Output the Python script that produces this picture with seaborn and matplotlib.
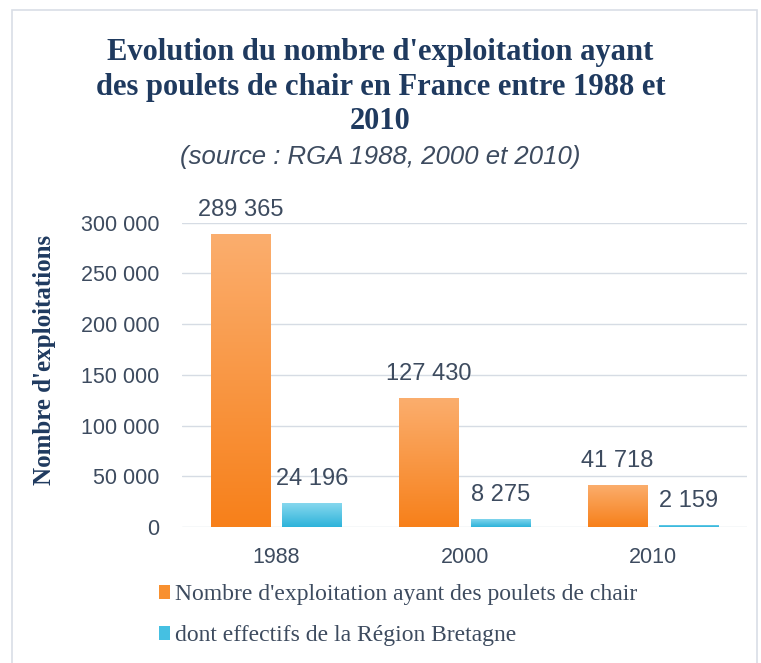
import matplotlib
matplotlib.use("Agg")
import matplotlib.pyplot as plt
import matplotlib.patches as mpatches
from matplotlib.colors import LinearSegmentedColormap
import numpy as np
import pandas as pd
import seaborn as sns

years = ["1988", "2000", "2010"]
series = ["Nombre d'exploitation ayant des poulets de chair",
          "dont effectifs de la Région Bretagne"]
france = [289365, 127430, 41718]
bretagne = [24196, 8275, 2159]
yticks = [0, 50000, 100000, 150000, 200000, 250000, 300000]

df = pd.DataFrame({
    "year": years * 2,
    "series": [series[0]] * 3 + [series[1]] * 3,
    "value": france + bretagne,
})

sns.set_theme(style="white")
plt.rcParams['font.family'] = ['DejaVu Sans']

def fmt(v):
    return f"{v:,}".replace(",", " ")

txt = "#3D4B5F"
navy = "#1F3A5F"
colors = {series[0]: "#F8902F", series[1]: "#45C0E2"}

fig = plt.figure(figsize=(7.61, 6.63), dpi=100)
fig.patch.set_facecolor("white")
ax = fig.add_axes([0.239, 0.205, 0.743, 0.459])

sns.barplot(data=df, x="year", y="value", hue="series", hue_order=series,
            palette=colors, width=0.76, gap=0.17, ax=ax, legend=True,
            edgecolor="none", linewidth=0, saturation=1)

ax.set_ylim(0, 300000)
ax.set_xlim(-0.5, 2.5)
ax.set_yticks(yticks)
ax.set_yticklabels([fmt(v) for v in yticks], fontfamily="Liberation Sans",
                   fontsize=15.5, color=txt)
ax.set_xticklabels(years, fontfamily="Liberation Sans", fontsize=15.5, color=txt)
ax.tick_params(axis="y", length=0, pad=16)
ax.tick_params(axis="x", length=0, pad=14)
ax.grid(axis="y", color="#D6DCE4", linewidth=1)
ax.set_axisbelow(True)
for s in ["top", "right", "left", "bottom"]:
    ax.spines[s].set_visible(False)
ax.set_xlabel("")
ax.set_ylabel("Nombre d'exploitations", fontfamily="Liberation Serif",
              fontweight="bold", fontsize=18, color=navy)
ax.yaxis.set_label_coords((56 - 182) / 565, (527 - 360) / 304)

# gradients on bars
grads = {
    series[0]: LinearSegmentedColormap.from_list("o", ["#F7801A", "#FBAE6E"]),
    series[1]: LinearSegmentedColormap.from_list("b", ["#2DB3DA", "#8AD9EF"]),
}
for cont, name in zip(ax.containers, series):
    for bar in cont:
        x0, y0 = bar.get_x(), bar.get_y()
        w, h = bar.get_width(), bar.get_height()
        grad = np.linspace(0, 1, 256).reshape(-1, 1)
        im = ax.imshow(grad, extent=[x0, x0 + w, y0, y0 + h], origin="lower",
                       aspect="auto", cmap=grads[name], zorder=bar.get_zorder())
        im.set_clip_path(bar)
    ax.bar_label(cont, labels=[fmt(int(v)) for v in cont.datavalues],
                 padding=9, fontfamily="Liberation Sans", fontsize=17,
                 color=txt, clip_on=False)
ax.set_xlim(-0.5, 2.5)
ax.set_ylim(0, 300000)

# legend
handles, labels = ax.get_legend_handles_labels()
ax.get_legend().remove()
leg = fig.legend(handles, labels, loc="upper left",
                 bbox_to_anchor=(0.196, 0.133), frameon=False,
                 prop={"family": "Liberation Serif", "size": 17},
                 handlelength=0.5, handleheight=0.5, handletextpad=0.2,
                 labelspacing=0.85, borderaxespad=0)
for t in leg.get_texts():
    t.set_color(txt)

# titles
fig.text(0.5, 1 - 38 / 663, "Evolution du nombre d'exploitation ayant\n"
         "des poulets de chair en France entre 1988 et\n2010",
         ha="center", va="top", fontfamily="Liberation Serif",
         fontweight="bold", fontsize=22, color=navy, linespacing=1.25)
fig.text(0.5, 1 - 157 / 663, "(source : RGA 1988, 2000 et 2010)", ha="center",
         va="center", fontfamily="Liberation Sans", style="italic",
         fontsize=18.5, color=txt)

# frame
fig.add_artist(mpatches.Rectangle((12 / 761, -0.05), (757 - 12) / 761,
                                  1.05 - 10 / 663, transform=fig.transFigure,
                                  fill=False, edgecolor="#D9DEE6", lw=1.2))

fig.savefig("out.png", dpi=100)
